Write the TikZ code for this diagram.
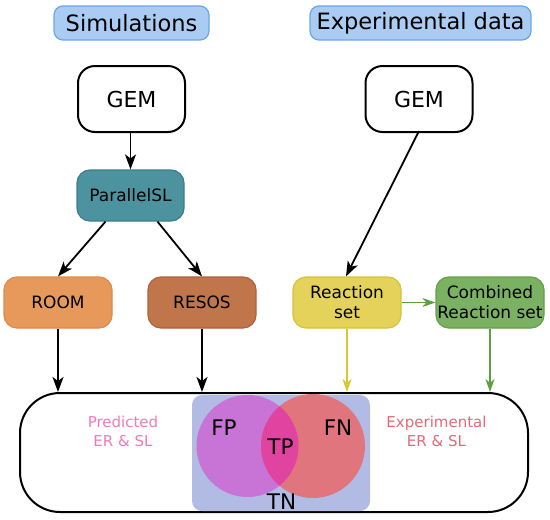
\documentclass[tikz,border=0pt]{standalone}
\usepackage{fontspec}
\setmainfont{DejaVu Sans}
\usetikzlibrary{arrows.meta}
\definecolor{hdrfill}{HTML}{AACBF2}
\definecolor{hdrdraw}{HTML}{6AA6EA}
\definecolor{pslfill}{HTML}{4C939F}
\definecolor{psldraw}{HTML}{3A7F8B}
\definecolor{roomfill}{HTML}{E6995B}
\definecolor{roomdraw}{HTML}{E08A45}
\definecolor{resosfill}{HTML}{C1754B}
\definecolor{resosdraw}{HTML}{B0603A}
\definecolor{rsfill}{HTML}{E5D25A}
\definecolor{rsdraw}{HTML}{D6C23B}
\definecolor{cbfill}{HTML}{7BB162}
\definecolor{cbdraw}{HTML}{63A048}
\definecolor{yarrow}{HTML}{D8C830}
\definecolor{garrow}{HTML}{5EA040}
\definecolor{venbg}{HTML}{B1BBE4}
\definecolor{fpcol}{HTML}{C774D6}
\definecolor{fncol}{HTML}{E0757D}
\definecolor{tpcol}{HTML}{E044A0}
\definecolor{predtxt}{HTML}{F07AB8}
\definecolor{exptxt}{HTML}{E06A78}
\tikzset{
  hdr/.style={draw=hdrdraw, fill=hdrfill, line width=1.2pt, rounded corners=9pt,
    minimum height=34pt, inner sep=0pt, font=\fontsize{22.5}{26}\selectfont},
  gembox/.style={draw=black, line width=2pt, rounded corners=17pt,
    minimum width=107pt, minimum height=66pt, inner sep=0pt,
    font=\fontsize{22}{26}\selectfont},
  procbox/.style={line width=1.2pt, rounded corners=13pt,
    minimum width=107pt, minimum height=51pt, inner sep=0pt, align=center,
    font=\fontsize{17}{20}\selectfont},
  arr/.style={line width=1.8pt, -{Stealth[length=15pt,width=11pt,inset=4pt]}},
  carr/.style={line width=1.6pt, -{Stealth[length=13pt,width=9pt,inset=4pt]}},
  venlbl/.style={font=\fontsize{21.5}{24}\selectfont, inner sep=0pt},
  settxt/.style={font=\fontsize{15}{19}\selectfont, align=center, inner sep=0pt}
}
\begin{document}
\begin{tikzpicture}[x=1pt,y=-1pt]
\useasboundingbox (0,0) rectangle (550,520);
% headers
\node[hdr, minimum width=155pt] (sim) at (131.5,23) {Simulations};
\node[hdr, minimum width=221pt] (exp) at (420.5,23) {Experimental data};
% GEM boxes
\node[gembox] (gemL) at (131.5,99) {GEM};
\node[gembox] (gemR) at (419,99) {GEM};
% process boxes
\node[procbox, draw=psldraw, fill=pslfill] (psl) at (130.5,195.5) {ParallelSL};
\node[procbox, draw=roomdraw, fill=roomfill, minimum width=108pt] (room) at (58,302.5) {ROOM};
\node[procbox, draw=resosdraw, fill=resosfill, minimum width=108pt] (resos) at (202,302.5) {RESOS};
\node[procbox, draw=rsdraw, fill=rsfill, minimum width=108pt] (rs) at (347,302.5) {Reaction\\set};
\node[procbox, draw=cbdraw, fill=cbfill, minimum width=108pt] (cb) at (490,302.5) {Combined\\Reaction set};
% big box
\node[draw=black, line width=2pt, rounded corners=40pt, minimum width=508pt,
  minimum height=119pt, inner sep=0pt] (big) at (274,452.5) {};
% venn
\fill[venbg, rounded corners=10pt] (192,395) rectangle (370,511);
\fill[fpcol] (247.5,446) circle[radius=51];
\fill[fncol] (313,446) circle[radius=52];
\begin{scope}
  \clip (247.5,446) circle[radius=51];
  \fill[tpcol] (313,446) circle[radius=52];
\end{scope}
\node[venlbl] (fp) at (224,428) {FP};
\node[venlbl] (tp) at (280.5,447) {TP};
\node[venlbl] (fn) at (338,428) {FN};
\node[venlbl] (tn) at (281.5,502) {TN};
\node[settxt, text=predtxt] (pred) at (123,431) {Predicted\\ER \& SL};
\node[settxt, text=exptxt] (expset) at (436.5,431) {Experimental\\ER \& SL};
% connectors
\draw[arr] (psl.north |- gemL.south) -- (psl.north);
\draw[arr] ([xshift=-25pt]psl.south) -- (room.north);
\draw[arr] ([xshift=27pt]psl.south) -- (resos.north);
\draw[arr] ([yshift=2pt]gemR.south) -- ([xshift=-1pt]rs.north);
\draw[carr, draw=garrow] (rs.east) -- (cb.west);
\draw[arr] (room.south) -- (room.south |- big.north);
\draw[arr] (resos.south) -- (resos.south |- big.north);
\draw[carr, draw=yarrow] (rs.south) -- (rs.south |- big.north);
\draw[carr, draw=garrow] (cb.south) -- (cb.south |- big.north);
\end{tikzpicture}
\end{document}
